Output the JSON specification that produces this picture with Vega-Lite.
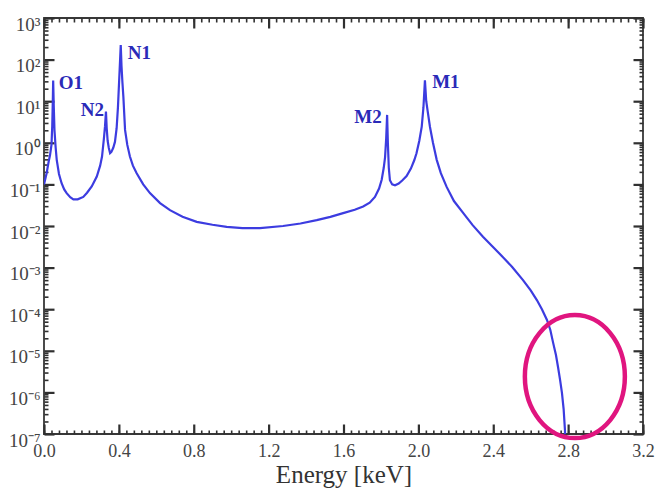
{
  "$schema": "https://vega.github.io/schema/vega-lite/v6.json",
  "width": 599,
  "height": 416,
  "autosize": {"type": "none"},
  "padding": {"left": 44, "top": 18, "right": 15, "bottom": 54},
  "background": "white",
  "config": {
    "view": {"stroke": "#383838", "strokeWidth": 1.8},
    "axis": {"grid": false, "domain": false, "ticks": true, "tickColor": "#303030", "tickWidth": 2.2, "tickOpacity": 1, "tickRound": false, "labelOverlap": false, "labelFlush": false, "labelBound": false, "labelFont": "Liberation Serif", "titleFont": "Liberation Serif"}
  },
  "datasets": {
    "curve": [
      {"energy": 0.000, "intensity": 0.1},
      {"energy": 0.014, "intensity": 0.186},
      {"energy": 0.025, "intensity": 0.355},
      {"energy": 0.032, "intensity": 0.501},
      {"energy": 0.040, "intensity": 0.891},
      {"energy": 0.044, "intensity": 2.51},
      {"energy": 0.047, "intensity": 10},
      {"energy": 0.049, "intensity": 31.6},
      {"energy": 0.052, "intensity": 7.94},
      {"energy": 0.056, "intensity": 2.0},
      {"energy": 0.062, "intensity": 0.794},
      {"energy": 0.068, "intensity": 0.389},
      {"energy": 0.080, "intensity": 0.178},
      {"energy": 0.094, "intensity": 0.107},
      {"energy": 0.108, "intensity": 0.0759},
      {"energy": 0.121, "intensity": 0.0617},
      {"energy": 0.140, "intensity": 0.049},
      {"energy": 0.157, "intensity": 0.0437},
      {"energy": 0.180, "intensity": 0.0437},
      {"energy": 0.210, "intensity": 0.0501},
      {"energy": 0.230, "intensity": 0.0631},
      {"energy": 0.255, "intensity": 0.0891},
      {"energy": 0.282, "intensity": 0.155},
      {"energy": 0.300, "intensity": 0.282},
      {"energy": 0.310, "intensity": 0.468},
      {"energy": 0.320, "intensity": 1.26},
      {"energy": 0.326, "intensity": 2.51},
      {"energy": 0.331, "intensity": 5.62},
      {"energy": 0.335, "intensity": 2.24},
      {"energy": 0.340, "intensity": 1.12},
      {"energy": 0.346, "intensity": 0.759},
      {"energy": 0.353, "intensity": 0.562},
      {"energy": 0.360, "intensity": 0.603},
      {"energy": 0.370, "intensity": 0.759},
      {"energy": 0.379, "intensity": 1.05},
      {"energy": 0.388, "intensity": 2.24},
      {"energy": 0.395, "intensity": 7.08},
      {"energy": 0.401, "intensity": 28.2},
      {"energy": 0.406, "intensity": 89.1},
      {"energy": 0.410, "intensity": 224},
      {"energy": 0.414, "intensity": 70.8},
      {"energy": 0.419, "intensity": 28.2},
      {"energy": 0.424, "intensity": 12.9},
      {"energy": 0.433, "intensity": 2.04},
      {"energy": 0.445, "intensity": 0.891},
      {"energy": 0.459, "intensity": 0.468},
      {"energy": 0.475, "intensity": 0.282},
      {"energy": 0.495, "intensity": 0.186},
      {"energy": 0.530, "intensity": 0.1},
      {"energy": 0.566, "intensity": 0.0617},
      {"energy": 0.620, "intensity": 0.0355},
      {"energy": 0.673, "intensity": 0.024},
      {"energy": 0.740, "intensity": 0.0166},
      {"energy": 0.816, "intensity": 0.0126},
      {"energy": 0.900, "intensity": 0.0107},
      {"energy": 0.976, "intensity": 0.00955},
      {"energy": 1.060, "intensity": 0.00891},
      {"energy": 1.154, "intensity": 0.00891},
      {"energy": 1.277, "intensity": 0.01},
      {"energy": 1.370, "intensity": 0.0115},
      {"energy": 1.457, "intensity": 0.0138},
      {"energy": 1.530, "intensity": 0.0166},
      {"energy": 1.598, "intensity": 0.0204},
      {"energy": 1.660, "intensity": 0.0245},
      {"energy": 1.705, "intensity": 0.0295},
      {"energy": 1.740, "intensity": 0.0363},
      {"energy": 1.768, "intensity": 0.0501},
      {"energy": 1.790, "intensity": 0.0794},
      {"energy": 1.804, "intensity": 0.129},
      {"energy": 1.815, "intensity": 0.251},
      {"energy": 1.822, "intensity": 0.447},
      {"energy": 1.828, "intensity": 1.26},
      {"energy": 1.833, "intensity": 4.68},
      {"energy": 1.837, "intensity": 1.0},
      {"energy": 1.842, "intensity": 0.251},
      {"energy": 1.848, "intensity": 0.126},
      {"energy": 1.860, "intensity": 0.1},
      {"energy": 1.875, "intensity": 0.0955},
      {"energy": 1.895, "intensity": 0.105},
      {"energy": 1.915, "intensity": 0.126},
      {"energy": 1.937, "intensity": 0.158},
      {"energy": 1.960, "intensity": 0.24},
      {"energy": 1.978, "intensity": 0.38},
      {"energy": 1.990, "intensity": 0.562},
      {"energy": 2.005, "intensity": 1.12},
      {"energy": 2.018, "intensity": 2.45},
      {"energy": 2.027, "intensity": 7.08},
      {"energy": 2.035, "intensity": 31.6},
      {"energy": 2.042, "intensity": 10},
      {"energy": 2.050, "intensity": 5.62},
      {"energy": 2.062, "intensity": 2.4},
      {"energy": 2.078, "intensity": 1.0},
      {"energy": 2.098, "intensity": 0.389},
      {"energy": 2.120, "intensity": 0.186},
      {"energy": 2.151, "intensity": 0.0871},
      {"energy": 2.190, "intensity": 0.0398},
      {"energy": 2.240, "intensity": 0.0204},
      {"energy": 2.290, "intensity": 0.0105},
      {"energy": 2.345, "intensity": 0.0055},
      {"energy": 2.400, "intensity": 0.00309},
      {"energy": 2.452, "intensity": 0.00178},
      {"energy": 2.500, "intensity": 0.00105},
      {"energy": 2.559, "intensity": 0.000501},
      {"energy": 2.600, "intensity": 0.000282},
      {"energy": 2.633, "intensity": 0.000166},
      {"energy": 2.660, "intensity": 0.0001},
      {"energy": 2.687, "intensity": 0.000055},
      {"energy": 2.705, "intensity": 0.0000316},
      {"energy": 2.720, "intensity": 0.0000155},
      {"energy": 2.735, "intensity": 0.00000794},
      {"energy": 2.746, "intensity": 0.00000407},
      {"energy": 2.757, "intensity": 0.000002},
      {"energy": 2.767, "intensity": 0.000000977},
      {"energy": 2.776, "intensity": 0.000000398},
      {"energy": 2.783, "intensity": 0.000000126},
      {"energy": 2.786, "intensity": 0.00000005}
    ],
    "labels": [
      {"energy": 0.144, "intensity": 27.4, "label": "O1"},
      {"energy": 0.259, "intensity": 6.14, "label": "N2"},
      {"energy": 0.510, "intensity": 144, "label": "N1"},
      {"energy": 1.731, "intensity": 4.17, "label": "M2"},
      {"energy": 2.147, "intensity": 28.8, "label": "M1"}
    ],
    "marker": [
      {"energy": 2.836, "intensity": 0.0000024}
    ]
  },
  "layer": [
    {
      "data": {"name": "curve"},
      "mark": {"type": "line", "color": "#3c3ce0", "strokeWidth": 2.2, "clip": true},
      "encoding": {
        "x": {
          "field": "energy", "type": "quantitative",
          "scale": {"domain": [0, 3.2], "nice": false, "zero": false},
          "axis": {
            "orient": "bottom",
            "values": [0, 0.4, 0.8, 1.2, 1.6, 2.0, 2.4, 2.8, 3.2],
            "format": ".1f",
            "offset": -10,
            "tickSize": 10,
            "labelPadding": 8,
            "labelFontSize": 18,
            "labelColor": "#444444",
            "title": "Energy [keV]",
            "titleFontSize": 25,
            "titleFontWeight": "normal",
            "titleColor": "#333333",
            "titlePadding": 2
          }
        },
        "y": {
          "field": "intensity", "type": "quantitative",
          "scale": {"type": "log", "domain": [1e-7, 1000], "nice": false},
          "axis": {
            "orient": "left",
            "values": [1e-7, 1e-6, 1e-5, 1e-4, 1e-3, 0.01, 0.1, 1, 10, 100, 1000],
            "labelExpr": "['10⁻⁷','10⁻⁶','10⁻⁵','10⁻⁴','10⁻³','10⁻²','10⁻¹','10⁰','10¹','10²','10³'][round(log(datum.value)/LN10)+7]",
            "offset": -10,
            "tickSize": 10,
            "labelPadding": 4,
            "labelOffset": 6,
            "labelFontSize": 19,
            "labelColor": "#444444",
            "title": null
          }
        }
      }
    },
    {
      "data": {"name": "marker"},
      "mark": {"type": "point", "shape": "M 1 0 C 1 0.679 0.552 1.23 0 1.23 C -0.552 1.23 -1 0.679 -1 0 C -1 -0.679 -0.552 -1.23 0 -1.23 C 0.552 -1.23 1 -0.679 1 0 Z", "size": 10000, "filled": false, "stroke": "#e0157f", "strokeWidth": 4.5, "opacity": 1, "clip": false},
      "encoding": {
        "x": {
          "field": "energy", "type": "quantitative",
          "scale": {"domain": [0, 3.2], "nice": false, "zero": false},
          "axis": {
            "orient": "top",
            "values": [0, 0.4, 0.8, 1.2, 1.6, 2.0, 2.4, 2.8, 3.2],
            "labels": false,
            "offset": -10,
            "tickSize": 10,
            "title": null
          }
        },
        "y": {
          "field": "intensity", "type": "quantitative",
          "scale": {"type": "log", "domain": [1e-7, 1000], "nice": false},
          "axis": {
            "orient": "right",
            "values": [1e-7, 1e-6, 1e-5, 1e-4, 1e-3, 0.01, 0.1, 1, 10, 100, 1000],
            "labels": false,
            "offset": -10,
            "tickSize": 10,
            "title": null
          }
        }
      }
    },
    {
      "data": {"name": "labels"},
      "mark": {"type": "text", "font": "Liberation Serif", "fontWeight": "bold", "fontSize": 19, "color": "#2a2ab8", "align": "center", "baseline": "middle"},
      "encoding": {
        "x": {
          "field": "energy", "type": "quantitative",
          "scale": {"domain": [0, 3.2], "nice": false, "zero": false},
          "axis": {
            "orient": "bottom",
            "values": [0,0.04,0.08,0.12,0.16,0.2,0.24,0.28,0.32,0.36,0.4,0.44,0.48,0.52,0.56,0.6,0.64,0.68,0.72,0.76,0.8,0.84,0.88,0.92,0.96,1,1.04,1.08,1.12,1.16,1.2,1.24,1.28,1.32,1.36,1.4,1.44,1.48,1.52,1.56,1.6,1.64,1.68,1.72,1.76,1.8,1.84,1.88,1.92,1.96,2,2.04,2.08,2.12,2.16,2.2,2.24,2.28,2.32,2.36,2.4,2.44,2.48,2.52,2.56,2.6,2.64,2.68,2.72,2.76,2.8,2.84,2.88,2.92,2.96,3,3.04,3.08,3.12,3.16,3.2],
            "labels": false,
            "offset": -4,
            "tickSize": 4,
            "tickWidth": 1.6,
            "title": null
          }
        },
        "y": {
          "field": "intensity", "type": "quantitative",
          "scale": {"type": "log", "domain": [1e-7, 1000], "nice": false},
          "axis": {
            "orient": "left",
            "values": [2e-7,3e-7,4e-7,5e-7,6e-7,7e-7,8e-7,9e-7,2e-6,3e-6,4e-6,5e-6,6e-6,7e-6,8e-6,9e-6,2e-5,3e-5,4e-5,5e-5,6e-5,7e-5,8e-5,9e-5,2e-4,3e-4,4e-4,5e-4,6e-4,7e-4,8e-4,9e-4,2e-3,3e-3,4e-3,5e-3,6e-3,7e-3,8e-3,9e-3,0.02,0.03,0.04,0.05,0.06,0.07,0.08,0.09,0.2,0.3,0.4,0.5,0.6,0.7,0.8,0.9,2,3,4,5,6,7,8,9,20,30,40,50,60,70,80,90,200,300,400,500,600,700,800,900],
            "labels": false,
            "offset": -4,
            "tickSize": 4,
            "tickWidth": 1.6,
            "title": null
          }
        },
        "text": {"field": "label", "type": "nominal"}
      }
    },
    {
      "data": {"name": "marker"},
      "mark": {"type": "point", "opacity": 0, "size": 1},
      "encoding": {
        "x": {
          "field": "energy", "type": "quantitative",
          "scale": {"domain": [0, 3.2], "nice": false, "zero": false},
          "axis": {
            "orient": "top",
            "values": [0,0.04,0.08,0.12,0.16,0.2,0.24,0.28,0.32,0.36,0.4,0.44,0.48,0.52,0.56,0.6,0.64,0.68,0.72,0.76,0.8,0.84,0.88,0.92,0.96,1,1.04,1.08,1.12,1.16,1.2,1.24,1.28,1.32,1.36,1.4,1.44,1.48,1.52,1.56,1.6,1.64,1.68,1.72,1.76,1.8,1.84,1.88,1.92,1.96,2,2.04,2.08,2.12,2.16,2.2,2.24,2.28,2.32,2.36,2.4,2.44,2.48,2.52,2.56,2.6,2.64,2.68,2.72,2.76,2.8,2.84,2.88,2.92,2.96,3,3.04,3.08,3.12,3.16,3.2],
            "labels": false,
            "offset": -4,
            "tickSize": 4,
            "tickWidth": 1.6,
            "title": null
          }
        },
        "y": {
          "field": "intensity", "type": "quantitative",
          "scale": {"type": "log", "domain": [1e-7, 1000], "nice": false},
          "axis": {
            "orient": "right",
            "values": [2e-7,3e-7,4e-7,5e-7,6e-7,7e-7,8e-7,9e-7,2e-6,3e-6,4e-6,5e-6,6e-6,7e-6,8e-6,9e-6,2e-5,3e-5,4e-5,5e-5,6e-5,7e-5,8e-5,9e-5,2e-4,3e-4,4e-4,5e-4,6e-4,7e-4,8e-4,9e-4,2e-3,3e-3,4e-3,5e-3,6e-3,7e-3,8e-3,9e-3,0.02,0.03,0.04,0.05,0.06,0.07,0.08,0.09,0.2,0.3,0.4,0.5,0.6,0.7,0.8,0.9,2,3,4,5,6,7,8,9,20,30,40,50,60,70,80,90,200,300,400,500,600,700,800,900],
            "labels": false,
            "offset": -4,
            "tickSize": 4,
            "tickWidth": 1.6,
            "title": null
          }
        }
      }
    }
  ],
  "resolve": {"axis": {"x": "independent", "y": "independent"}}
}
